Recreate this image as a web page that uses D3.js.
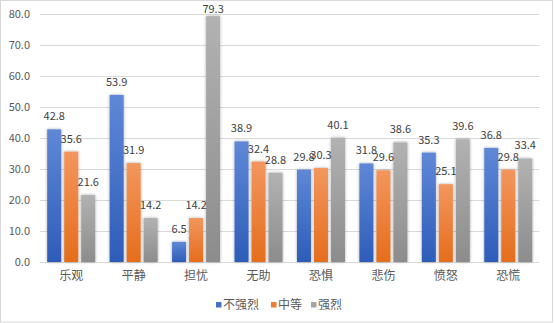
<!DOCTYPE html>
<html>
<head>
<meta charset="utf-8">
<script src="https://cdn.jsdelivr.net/npm/d3@7/dist/d3.min.js"></script>
<style>
  html, body { margin: 0; padding: 0; background: #fff; }
  svg { display: block; }
  text { font-family: "Noto Sans CJK SC", "DejaVu Sans", sans-serif; }
</style>
</head>
<body>
<svg id="chart" width="554" height="323"></svg>
<script>
// Emotion categories and intensity groups
const categories = ["乐观", "平静", "担忧", "无助", "恐惧", "悲伤", "愤怒", "恐慌"];
const seriesNames = ["不强烈", "中等", "强烈"];
const notStrong = [42.8, 53.9, 6.5, 38.9, 29.8, 31.8, 35.3, 36.8];
const medium    = [35.6, 31.9, 14.2, 32.4, 30.3, 29.6, 25.1, 29.8];
const strong    = [21.6, 14.2, 79.3, 28.8, 40.1, 38.6, 39.6, 33.4];
const yTicks = [0, 10, 20, 30, 40, 50, 60, 70, 80];

const seriesValues = [notStrong, medium, strong];
const palette = [
  { top: "#5F88D6", bottom: "#2D5CB9", swatch: "#4472C4" },
  { top: "#F3965E", bottom: "#E56D1C", swatch: "#ED7D31" },
  { top: "#B2B2B2", bottom: "#8C8C8C", swatch: "#A5A5A5" }
];

const svg = d3.select("#chart");
const plot = { left: 40, right: 539.5, top: 14, bottom: 262 };

// Chart frame
svg.append("rect")
  .attr("x", 0.5).attr("y", 0.5)
  .attr("width", 552).attr("height", 321.5)
  .attr("fill", "#fff").attr("stroke", "#D9D9D9").attr("stroke-width", 1);

const defs = svg.append("defs");
palette.forEach((p, i) => {
  const g = defs.append("linearGradient")
    .attr("id", "grad" + i).attr("x1", 0).attr("y1", 0).attr("x2", 0).attr("y2", 1);
  g.append("stop").attr("offset", "0%").attr("stop-color", p.top);
  g.append("stop").attr("offset", "100%").attr("stop-color", p.bottom);
});
const shadow = defs.append("filter").attr("id", "shadow")
  .attr("x", "-50%").attr("y", "-10%").attr("width", "200%").attr("height", "120%");
shadow.append("feDropShadow")
  .attr("dx", 0).attr("dy", 0).attr("stdDeviation", 1.6)
  .attr("flood-color", "#000").attr("flood-opacity", 0.35);

const y = d3.scaleLinear().domain([0, 80]).range([plot.bottom, plot.top]);
const x0 = d3.scaleBand().domain(categories)
  .range([plot.left, plot.right]).paddingInner(0.231).paddingOuter(0.1155);
const x1 = d3.scaleBand().domain(d3.range(seriesNames.length))
  .range([0, x0.bandwidth()]).paddingInner(3 / 17).paddingOuter(0);

// Horizontal gridlines
svg.append("g").selectAll("line").data(yTicks).join("line")
  .attr("x1", plot.left).attr("x2", plot.right)
  .attr("y1", d => Math.round(y(d)) + 0.5).attr("y2", d => Math.round(y(d)) + 0.5)
  .attr("stroke", "#D9D9D9").attr("stroke-width", 1);

// Y axis labels
const yAxis = d3.axisLeft(y).tickValues(yTicks).tickFormat(d3.format(".1f")).tickSize(0).tickPadding(0);
const yg = svg.append("g").attr("transform", `translate(${plot.left - 10},0)`).call(yAxis);
yg.select(".domain").remove();
yg.selectAll("text").attr("fill", "#595959").attr("font-size", 11)
  .attr("font-family", "\"Noto Sans CJK SC\", sans-serif");

// Category labels
const xAxis = d3.axisBottom(x0).tickSize(0).tickPadding(0);
const xg = svg.append("g").attr("transform", `translate(0,${plot.bottom + 9})`).call(xAxis);
xg.select(".domain").remove();
xg.selectAll("text").attr("fill", "#595959").attr("font-size", 12)
  .attr("font-family", "\"Noto Sans CJK SC\", sans-serif");

// Bars
const groups = svg.append("g").selectAll("g").data(categories).join("g")
  .attr("transform", d => `translate(${x0(d)},0)`);

groups.selectAll("rect").data((c, ci) => seriesValues.map((vals, si) => ({ si, v: vals[ci] })))
  .join("rect")
  .attr("x", d => x1(d.si))
  .attr("width", x1.bandwidth())
  .attr("y", d => y(d.v))
  .attr("height", d => y(0) - y(d.v))
  .attr("fill", d => `url(#grad${d.si})`)
  .attr("filter", "url(#shadow)");

// Value labels, kept inside the chart frame at the top
groups.selectAll("text.val").data((c, ci) => seriesValues.map((vals, si) => ({ si, v: vals[ci] })))
  .join("text").attr("class", "val")
  .attr("x", d => x1(d.si) + x1.bandwidth() / 2)
  .attr("y", d => Math.max(y(d.v) - 9, 13))
  .attr("text-anchor", "middle")
  .attr("font-size", 11)
  .attr("fill", "#404040")
  .text(d => d.v.toFixed(1));

// Legend
const legendItems = [
  { x: 216, label: seriesNames[0], color: palette[0].swatch },
  { x: 271, label: seriesNames[1], color: palette[1].swatch },
  { x: 311, label: seriesNames[2], color: palette[2].swatch }
];
const lg = svg.append("g");
legendItems.forEach(item => {
  lg.append("rect").attr("x", item.x).attr("y", 302).attr("width", 5.5).attr("height", 5.5)
    .attr("fill", item.color);
  lg.append("text").attr("x", item.x + 7).attr("y", 309)
    .attr("font-size", 12).attr("fill", "#595959").text(item.label);
});
</script>
</body>
</html>
